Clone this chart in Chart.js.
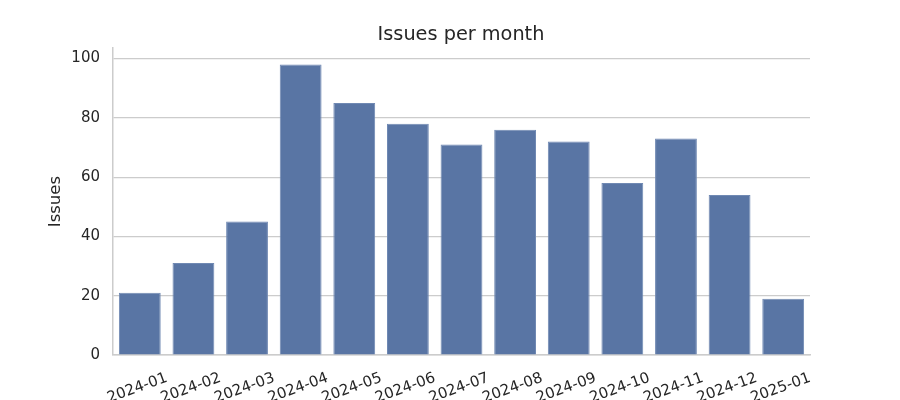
<!DOCTYPE html>
<html>
<head>
<meta charset="utf-8">
<title>Issues per month</title>
<script src="https://cdn.jsdelivr.net/npm/chart.js@4.4.1/dist/chart.umd.min.js"></script>
<style>
  html, body { margin: 0; padding: 0; background: #ffffff; }
  #wrap { width: 900px; height: 400px; }
</style>
</head>
<body>
<div id="wrap"><canvas id="chart" width="900" height="400"></canvas></div>
<script>
// data
const months = ['2024-01', '2024-02', '2024-03', '2024-04', '2024-05', '2024-06', '2024-07',
                '2024-08', '2024-09', '2024-10', '2024-11', '2024-12', '2025-01'];
const issues = [21, 31, 45, 98, 85, 78, 71, 76, 72, 58, 73, 54, 19];
const yTicks = [0, 20, 40, 60, 80, 100];

const textColor = '#262626';
const gridColor = '#cccccc';
Chart.defaults.font.family = '"DejaVu Sans", sans-serif';
Chart.defaults.color = textColor;

new Chart(document.getElementById('chart').getContext('2d'), {
  type: 'bar',
  data: {
    labels: months,
    datasets: [{
      label: 'Issues',
      data: issues,
      backgroundColor: '#5975a4',
      borderColor: '#7089b3',
      borderWidth: 1,
      barPercentage: 0.78,
      categoryPercentage: 1.0,
    }],
  },
  options: {
    responsive: false,
    animation: false,
    devicePixelRatio: 1,
    // title is centred over the plot, so keep the side margins in the scales
    layout: { padding: { left: 22, right: 0, top: 12, bottom: 0 } },
    plugins: {
      legend: { display: false },
      tooltip: { enabled: false },
      title: {
        display: true,
        text: 'Issues per month',
        color: textColor,
        font: { size: 19.3, weight: 'normal' },
        padding: { top: 11, bottom: 2 },
      },
    },
    scales: {
      x: {
        offset: true,
        grid: { display: false },
        border: { display: true, color: gridColor, width: 1.5 },
        ticks: {
          autoSkip: false,
          minRotation: 20,
          maxRotation: 20,
          labelOffset: 27,
          padding: 6,
          color: textColor,
          font: { size: 15 },
        },
        afterFit: (scale) => { scale.height = 45; },
      },
      y: {
        min: 0,
        max: 103.5,
        grid: { color: gridColor, lineWidth: 1.2, drawTicks: false },
        border: { display: true, color: gridColor, width: 1.5 },
        afterBuildTicks: (scale) => { scale.ticks = yTicks.map(v => ({ value: v })); },
        afterFit: (scale) => { scale.width = 91; },
        ticks: {
          padding: 13,
          color: textColor,
          font: { size: 15 },
        },
        title: {
          display: true,
          text: 'Issues',
          color: textColor,
          font: { size: 16.5 },
          padding: { top: 24, bottom: 4 },
        },
      },
      // empty right margin
      yRight: {
        position: 'right',
        min: 0,
        max: 1,
        grid: { display: false },
        border: { display: false },
        ticks: { display: false },
        afterFit: (scale) => { scale.width = 90; },
      },
    },
  },
});
</script>
</body>
</html>
